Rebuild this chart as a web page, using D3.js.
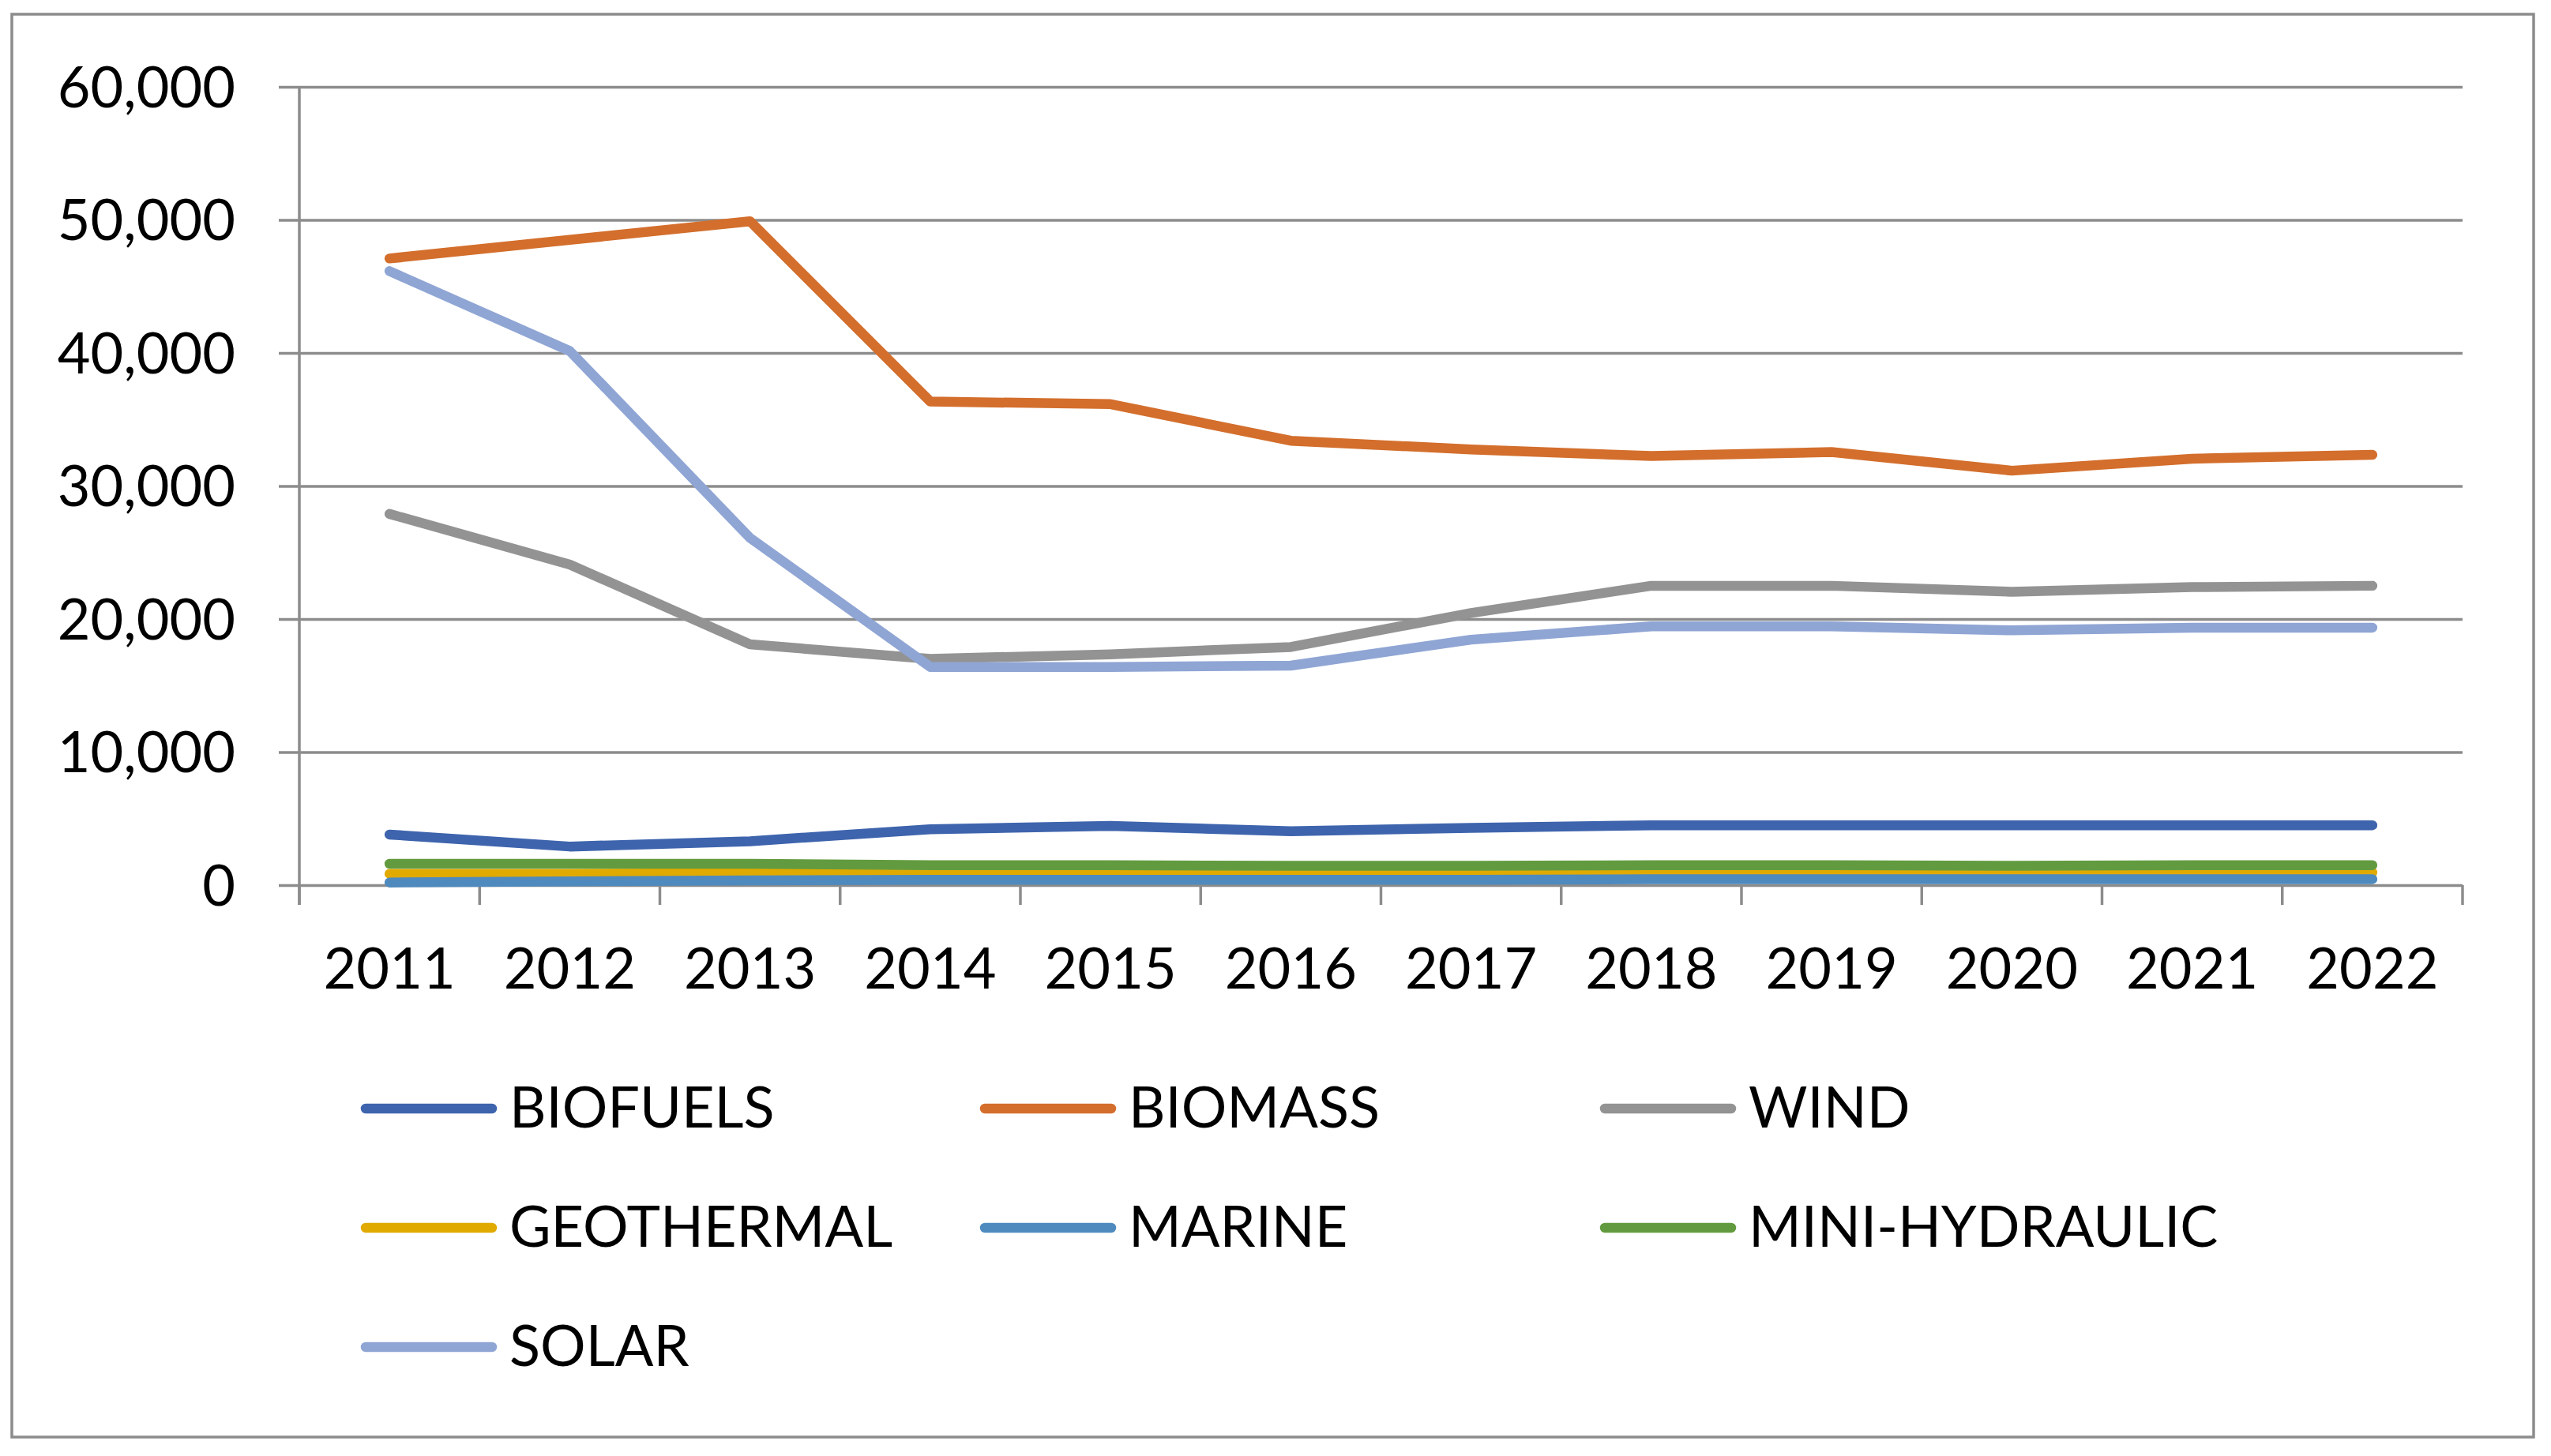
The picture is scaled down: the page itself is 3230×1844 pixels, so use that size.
<!DOCTYPE html>
<html>
<head>
<meta charset="utf-8">
<script src="https://cdn.jsdelivr.net/npm/d3@7"></script>
<style>
  body { margin: 0; background: #fff; }
  text { font-family: Lato, "Open Sans", sans-serif; fill: #000; }
</style>
</head>
<body>
<svg id="chart"></svg>
<script>
/**** DATA *****/
const years = ['2011','2012','2013','2014','2015','2016','2017','2018','2019','2020','2021','2022'];
const seriesNames = ['BIOFUELS','BIOMASS','WIND','GEOTHERMAL','MARINE','MINI-HYDRAULIC','SOLAR'];
const seriesColors = ['#3E64AD','#D36E2C','#939393','#E0AA00','#4E8ABE','#629B3F','#8FA5D4'];
const yTicks = [0, 10000, 20000, 30000, 40000, 50000, 60000];

const biofuels      = [3800, 2900, 3300, 4200, 4450, 4050, 4300, 4500, 4500, 4500, 4500, 4500];
const biomass       = [47100, 48500, 49900, 36350, 36150, 33400, 32750, 32250, 32550, 31150, 32050, 32350];
const wind          = [27900, 24100, 18100, 17000, 17350, 17900, 20450, 22500, 22500, 22050, 22400, 22500];
const geothermal    = [850, 850, 900, 950, 950, 950, 950, 950, 950, 950, 950, 950];
const marine        = [200, 280, 350, 400, 400, 400, 400, 450, 450, 450, 450, 450];
const miniHydraulic = [1600, 1600, 1600, 1500, 1500, 1450, 1450, 1500, 1500, 1450, 1500, 1500];
const solar         = [46150, 40150, 26100, 16400, 16400, 16500, 18450, 19450, 19450, 19150, 19350, 19350];

const seriesValues = [biofuels, biomass, wind, geothermal, marine, miniHydraulic, solar];

/**** LAYOUT *****/
const W = 3230, H = 1844;
const gridColor = '#8C8C8C';
const plotLeft = 379, plotRight = 3118, plotTop = 110, plotBottom = 1121;

const svg = d3.select('#chart').attr('width', W).attr('height', H);

svg.append('rect')
  .attr('x', 15).attr('y', 18).attr('width', 3193).attr('height', 1802)
  .attr('fill', '#fff').attr('stroke', gridColor).attr('stroke-width', 3.5);

const x = d3.scaleBand().domain(years).range([plotLeft, plotRight]).padding(0);
const y = d3.scaleLinear().domain([0, 60000]).range([plotBottom, plotTop]);

// y axis with gridlines
const yAxis = svg.append('g')
  .attr('transform', `translate(${plotLeft - 26},0)`)
  .call(d3.axisLeft(y).tickValues(yTicks).tickSizeInner(-(plotRight - plotLeft + 26)).tickSizeOuter(0)
    .tickPadding(55).tickFormat(d3.format(',')));
yAxis.select('.domain').remove();
yAxis.selectAll('line').attr('stroke', gridColor).attr('stroke-width', 3.5);
yAxis.selectAll('text')
  .attr('font-size', 72).attr('font-family', 'Lato, sans-serif')
  .attr('dy', null).attr('y', 25).attr('fill', '#000');

// vertical axis line
svg.append('line')
  .attr('x1', plotLeft).attr('x2', plotLeft).attr('y1', plotTop).attr('y2', plotBottom + 25)
  .attr('stroke', gridColor).attr('stroke-width', 3.5);

// x axis ticks between categories
const bounds = years.map(d => x(d)).concat([x(years[years.length - 1]) + x.bandwidth()]);
svg.append('g').selectAll('line').data(bounds).join('line')
  .attr('x1', d => d).attr('x2', d => d)
  .attr('y1', plotBottom).attr('y2', plotBottom + 25)
  .attr('stroke', gridColor).attr('stroke-width', 3.5);

// x labels
const xAxis = svg.append('g')
  .attr('transform', `translate(0,${plotBottom})`)
  .call(d3.axisBottom(x).tickSize(0).tickPadding(0));
xAxis.select('.domain').remove();
xAxis.selectAll('text')
  .attr('font-size', 72).attr('font-family', 'Lato, sans-serif')
  .attr('dy', null).attr('y', 131).attr('fill', '#000');

// lines
const line = d3.line()
  .x((d, i) => x(years[i]) + x.bandwidth() / 2)
  .y(d => y(d));

svg.append('g').selectAll('path').data(seriesValues).join('path')
  .attr('d', d => line(d))
  .attr('fill', 'none')
  .attr('stroke', (d, i) => seriesColors[i])
  .attr('stroke-width', 12.5)
  .attr('stroke-linejoin', 'round')
  .attr('stroke-linecap', 'round');

// legend
const legendCols = [463, 1247, 2032];
const legendRows = [1404, 1555, 1706];
const legend = svg.append('g').selectAll('g').data(seriesNames).join('g')
  .attr('transform', (d, i) => `translate(${legendCols[i % 3]},${legendRows[Math.floor(i / 3)]})`);
legend.append('line')
  .attr('x1', 0).attr('x2', 160).attr('y1', 0).attr('y2', 0)
  .attr('stroke', (d, i) => seriesColors[i])
  .attr('stroke-width', 12.5).attr('stroke-linecap', 'round');
legend.append('text')
  .attr('x', 182).attr('y', 24)
  .attr('font-size', 72)
  .text(d => d);
</script>
</body>
</html>
